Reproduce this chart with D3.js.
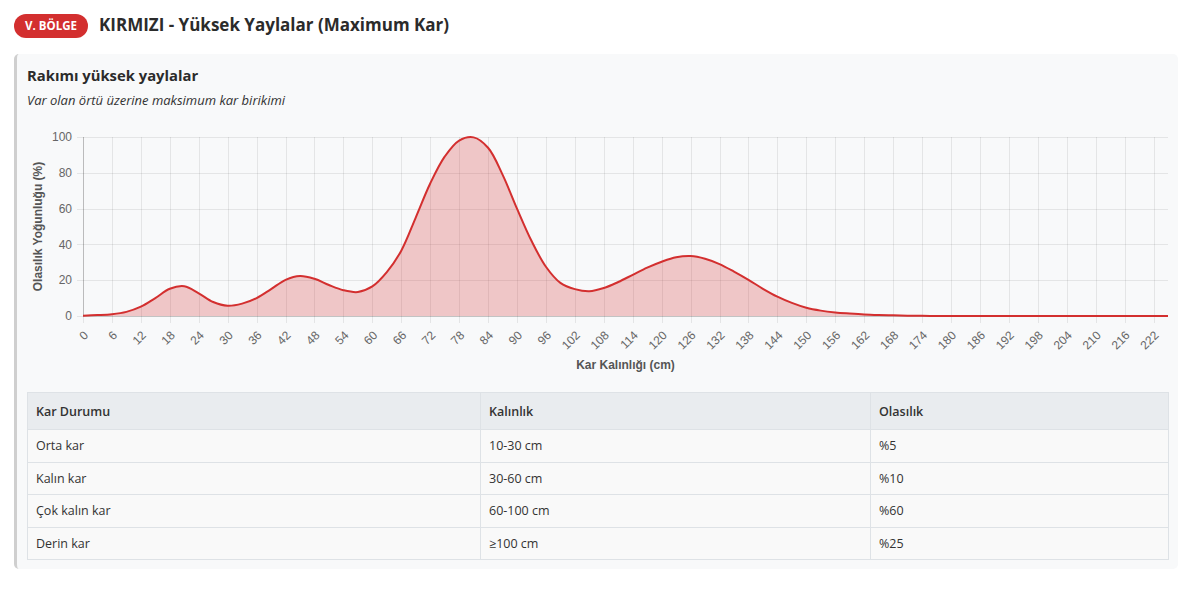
<!DOCTYPE html>
<html>
<head>
<meta charset="utf-8">
<script src="https://cdn.jsdelivr.net/npm/d3@7/dist/d3.min.js"></script>
<style>
  body { margin: 0; background: #fff; font-family: "Open Sans", "Noto Sans", sans-serif; color: #333; }
  #page { position: relative; width: 1189px; height: 589px; overflow: hidden; }
  .badge { position: absolute; left: 14px; top: 14px; width: 74px; height: 24px; border-radius: 12px;
    background: #d32f2f; color: #fff; font-weight: 700; font-size: 11.5px; line-height: 24px; text-align: center; }
  .title { position: absolute; left: 99px; top: 11px; font-size: 17px; font-weight: 700; line-height: 28px; color: #2b2b2b; }
  .card { position: absolute; left: 14px; top: 54px; width: 1164px; height: 515px; background: #f8f9fa;
    border-left: 3px solid #cfcfcf; border-radius: 5px; box-sizing: border-box; }
  .card-title { position: absolute; left: 27px; top: 64px; font-size: 14.8px; font-weight: 700; line-height: 22px; color: #2b2b2b; }
  .card-sub { position: absolute; left: 27px; top: 91px; font-size: 13px; font-style: italic; line-height: 18px; color: #333; }
  #chart { position: absolute; left: 0; top: 0; }
  table { position: absolute; left: 27px; top: 392px; width: 1141px; border-collapse: collapse; table-layout: fixed;
    font-size: 12.5px; color: #333; }
  th, td { border: 1px solid #dee2e6; text-align: left; padding: 0 8px; box-sizing: border-box; }
  th { background: #e9ecef; height: 37px; font-weight: 600; }
  td { background: #f9f9f9; height: 32.5px; }
</style>
</head>
<body>
<div id="page">
  <div class="badge">V. BÖLGE</div>
  <div class="title">KIRMIZI - Yüksek Yaylalar (Maximum Kar)</div>
  <div class="card"></div>
  <div class="card-title">Rakımı yüksek yaylalar</div>
  <div class="card-sub">Var olan örtü üzerine maksimum kar birikimi</div>
  <svg id="chart" width="1189" height="390"></svg>
  <table id="info"><colgroup><col style="width:453px"><col style="width:390px"><col style="width:298px"></colgroup></table>
</div>
<script>
// snow thickness (cm) and probability density (%)
const thickness = [0, 3, 6, 9, 12, 15, 18, 21, 24, 27, 30, 33, 36, 39, 42, 45, 48, 51, 54, 57,
  60, 63, 66, 69, 72, 75, 78, 81, 84, 87, 90, 93, 96, 99, 102, 105, 108, 111, 114, 117,
  120, 123, 126, 129, 132, 135, 138, 141, 144, 147, 150, 153, 156, 159, 162, 165, 168, 171, 174, 177,
  180, 183, 186, 189, 192, 195, 198, 201, 204, 207, 210, 213, 216, 219, 222, 225];
const density = [0.2, 0.5, 1.0, 2.3, 5.2, 10, 15.2, 16.6, 12.7, 7.8, 5.7, 6.9, 10, 15, 20.2, 22.4, 20.8, 17.3, 14.4, 13.4,
  16.5, 24.5, 36.5, 55, 74, 89, 98, 99.8, 94, 79, 60, 42, 27.5, 18.5, 15, 13.8, 15.6, 19, 23, 27,
  30.3, 32.8, 33.5, 32, 29, 24.8, 20.2, 15.2, 10.8, 7.3, 4.6, 3, 2, 1.4, 0.9, 0.6, 0.4, 0.2, 0.1, 0.05,
  0, 0, 0, 0, 0, 0, 0, 0, 0, 0, 0, 0, 0, 0, 0, 0];
const xTicks = [0, 6, 12, 18, 24, 30, 36, 42, 48, 54, 60, 66, 72, 78, 84, 90, 96, 102, 108, 114,
  120, 126, 132, 138, 144, 150, 156, 162, 168, 174, 180, 186, 192, 198, 204, 210, 216, 222];
const yTicks = [0, 20, 40, 60, 80, 100];

// table rows
const tableHeaders = ['Kar Durumu', 'Kalınlık', 'Olasılık'];
const snowClass = ['Orta kar', 'Kalın kar', 'Çok kalın kar', 'Derin kar'];
const snowRange = ['10-30 cm', '30-60 cm', '60-100 cm', '≥100 cm'];
const snowProb = ['%5', '%10', '%60', '%25'];

(function () {
  const svg = d3.select('#chart');
  const plot = { left: 83, right: 1168, top: 137, bottom: 316 };
  const x = d3.scaleLinear().domain([0, 225]).range([plot.left, plot.right]);
  const y = d3.scaleLinear().domain([0, 100]).range([plot.bottom, plot.top]);
  const font = '"Liberation Sans", Arial, sans-serif';

  // grid
  const grid = svg.append('g');
  grid.selectAll('.gy').data(yTicks).join('line')
    .attr('x1', plot.left - 6).attr('x2', plot.right)
    .attr('y1', d => Math.round(y(d)) + 0.5).attr('y2', d => Math.round(y(d)) + 0.5)
    .attr('stroke', 'rgba(0,0,0,0.08)');
  grid.selectAll('.gx').data(xTicks).join('line')
    .attr('x1', d => Math.round(x(d)) + 0.5).attr('x2', d => Math.round(x(d)) + 0.5)
    .attr('y1', plot.top).attr('y2', plot.bottom + 7)
    .attr('stroke', 'rgba(0,0,0,0.08)');

  // y axis line
  svg.append('line').attr('x1', plot.left + 0.5).attr('x2', plot.left + 0.5)
    .attr('y1', plot.top).attr('y2', plot.bottom)
    .attr('stroke', 'rgba(0,0,0,0.18)');

  const pts = thickness.map((t, i) => [t, density[i]]);
  const curve = d3.curveCatmullRom.alpha(0.5);
  const area = d3.area().curve(curve)
    .x(d => x(d[0])).y0(y(0)).y1(d => y(Math.max(0, d[1])));
  const line = d3.line().curve(curve)
    .x(d => x(d[0])).y(d => y(d[1]));

  svg.append('path').datum(pts).attr('d', area).attr('fill', 'rgba(211,47,47,0.25)');
  svg.append('line').attr('x1', plot.left).attr('x2', plot.right)
    .attr('y1', plot.bottom + 0.5).attr('y2', plot.bottom + 0.5)
    .attr('stroke', 'rgba(0,0,0,0.15)');
  svg.append('path').datum(pts).attr('d', line).attr('fill', 'none')
    .attr('stroke', '#d32f2f').attr('stroke-width', 2);

  // y tick labels
  svg.append('g').selectAll('text').data(yTicks).join('text')
    .attr('x', plot.left - 11).attr('y', d => y(d)).attr('dy', '0.35em')
    .attr('text-anchor', 'end').attr('font-family', font).attr('font-size', 12).attr('fill', '#666')
    .text(d => d);

  // x tick labels (rotated)
  svg.append('g').selectAll('text').data(xTicks).join('text')
    .attr('transform', d => `translate(${x(d) + 3},${plot.bottom + 17}) rotate(-45)`)
    .attr('text-anchor', 'end').attr('dy', '0.35em')
    .attr('font-family', font).attr('font-size', 12).attr('fill', '#666')
    .text(d => d);

  // axis titles
  svg.append('text').attr('x', (plot.left + plot.right) / 2).attr('y', 369).attr('text-anchor', 'middle')
    .attr('font-family', font).attr('font-size', 12).attr('font-weight', 700).attr('fill', '#555')
    .text('Kar Kalınlığı (cm)');
  svg.append('text').attr('transform', `translate(42,${(plot.top + plot.bottom) / 2}) rotate(-90)`)
    .attr('text-anchor', 'middle').attr('font-family', font).attr('font-size', 12)
    .attr('font-weight', 700).attr('fill', '#555')
    .text('Olasılık Yoğunluğu (%)');

  // table
  const table = d3.select('#info');
  table.append('tr').selectAll('th').data(tableHeaders).join('th').text(d => d);
  const rows = snowClass.map((c, i) => [c, snowRange[i], snowProb[i]]);
  table.selectAll('tr.r').data(rows).join('tr').attr('class', 'r')
    .selectAll('td').data(d => d).join('td').text(d => d);
})();
</script>
</body>
</html>
